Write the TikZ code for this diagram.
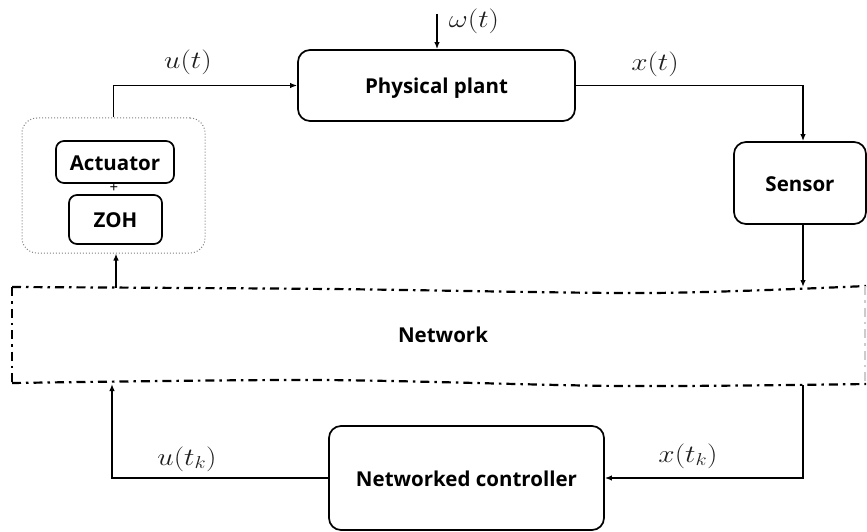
\documentclass[tikz,border=0pt]{standalone}
\usepackage{fontspec}
\setmainfont{Open Sans}
\usepackage{graphicx}
\usetikzlibrary{arrows.meta}
\begin{document}
\begin{tikzpicture}[x=1pt,y=-1pt,
  blk/.style={draw, line width=1.7pt, rounded corners=12pt, font=\fontsize{20.5}{24}\selectfont\bfseries, inner sep=0pt, align=center, text height=16pt, text depth=0pt},
  lbl/.style={text=black!88, font=\fontsize{24}{26}\selectfont, inner sep=0pt},
  conn/.style={line width=1.5pt, -{Latex[length=7pt,width=5.5pt]}},
  netline/.style={line width=2.2pt, dash pattern=on 9pt off 5pt on 2.5pt off 5pt}]
\useasboundingbox (0,0) rectangle (867,532);

% blocks
\node[blk, minimum width=277pt, minimum height=71pt] (plant) at (436.5,85.5) {Physical plant};
\node[blk, minimum width=132pt, minimum height=82pt] (sensor) at (800,183) {Sensor};
\node[draw=black!50, dotted, line width=1pt, rounded corners=15pt, minimum width=183pt, minimum height=135pt] (hold) at (113.5,185.5) {};
\node[blk, rounded corners=8pt, minimum width=118pt, minimum height=42pt] (act) at (115,162) {Actuator};
\node[blk, rounded corners=8pt, minimum width=93pt, minimum height=49pt] (zoh) at (115.5,219.5) {ZOH};
\node[font=\fontsize{15}{15}\selectfont, inner sep=0pt] (plus) at (114,188.5) {+};
\node[blk, minimum width=275pt, minimum height=104pt] (ctrl) at (466.5,478) {Networked controller};
\node[font=\fontsize{20.5}{24}\selectfont\bfseries, inner sep=0pt] (net) at (443,335) {Network};

% network boundary
\draw[netline] plot[smooth] coordinates {(12,287) (330,289) (650,293) (866,286)};
\draw[netline] plot[smooth] coordinates {(12,383) (320,380) (620,386) (866,384)};
\draw[netline] (12,287) -- (12,383);
\draw[netline, draw=black!20] (865,286) -- (865,384);

% points on the network boundary
\coordinate (netA) at (116,288);
\coordinate (netS) at (803,287);
\coordinate (netU) at (112,384);
\coordinate (netX) at (803,385);
\coordinate (sx) at (803,0);
\coordinate (wIn) at (437,14);

% connectors
\draw[conn] (wIn) -- (wIn |- plant.north);
\draw[conn] (hold.north) |- (plant.west);
\draw[conn] (plant.east) -| (sensor.north -| sx);
\draw[conn] (sensor.south -| sx) -- (netS);
\draw[conn] (netA) -- (netA |- hold.south);
\draw[conn] (ctrl.west) -| (netU);
\draw[conn] (netX) |- (ctrl.east);

% labels
\node[lbl] (lw) at (474,21) {\scalebox{1.18}[1]{$\omega(t)$}};
\node[lbl] (lu) at (188,62) {\scalebox{1.18}[1]{$u(t)$}};
\node[lbl] (lx) at (655,64) {\scalebox{1.18}[1]{$x(t)$}};
\node[lbl] (luk) at (187,459) {\scalebox{1.18}[1]{$u(t_k)$}};
\node[lbl] (lxk) at (688,456) {\scalebox{1.18}[1]{$x(t_k)$}};
\end{tikzpicture}
\end{document}
